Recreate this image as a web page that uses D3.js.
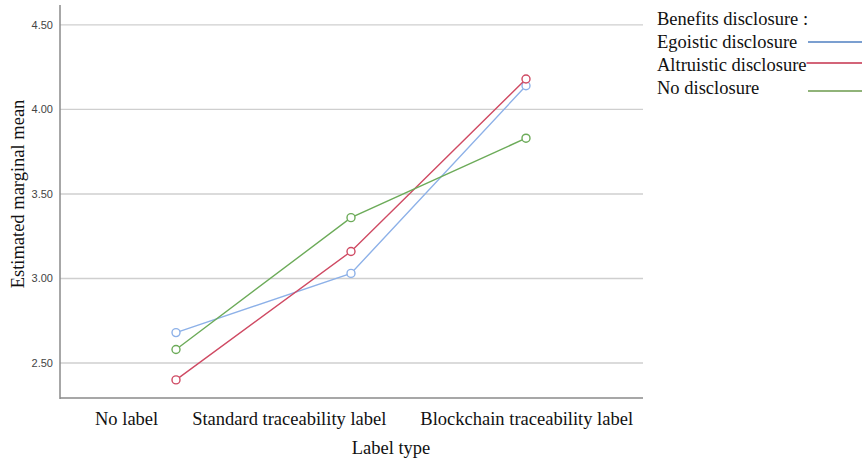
<!DOCTYPE html>
<html><head><meta charset="utf-8">
<script src="https://cdn.jsdelivr.net/npm/d3@7"></script>
<style>body{margin:0;background:#fff}svg{display:block}</style>
</head><body>
<svg id="chart" width="862" height="461"></svg>
<script>
const categories = ["No label", "Standard traceability label", "Blockchain traceability label"];
const seriesNames = ["Egoistic disclosure", "Altruistic disclosure", "No disclosure"];
const egoistic = [2.68, 3.03, 4.14];
const altruistic = [2.40, 3.16, 4.18];
const noDisclosure = [2.58, 3.36, 3.83];
const yTicks = [2.5, 3.0, 3.5, 4.0, 4.5];
const lineColors = ["#8db1e8", "#cf4a63", "#6cab59"];
const legendColors = ["#4f7fc0", "#c4304b", "#6b9a4c"];
const seriesValues = [egoistic, altruistic, noDisclosure];

(function () {
const svg = d3.select("#chart");
const pLeft = 60, pRight = 643, pTop = 5, pBottom = 398;
const serif = "Liberation Serif, Times New Roman, serif";
const fs = 18.5;
const y = d3.scaleLinear().domain([2.293, 4.618]).range([pBottom, pTop]);
const x = d3.scalePoint().domain(categories).range([176, 526]);

// gridlines
svg.append("g").selectAll("line").data(yTicks).join("line")
  .attr("x1", pLeft).attr("x2", pRight)
  .attr("y1", d => y(d)).attr("y2", d => y(d))
  .attr("stroke", "#cfcfcf").attr("stroke-width", 1.3);

// axes lines
svg.append("line").attr("x1", pLeft).attr("x2", pLeft).attr("y1", pTop).attr("y2", pBottom + 1)
  .attr("stroke", "#8a8a8a").attr("stroke-width", 1.5);
svg.append("line").attr("x1", pLeft).attr("x2", pRight).attr("y1", pBottom).attr("y2", pBottom)
  .attr("stroke", "#8a8a8a").attr("stroke-width", 1.5);

// y tick labels
svg.append("g").selectAll("text").data(yTicks).join("text")
  .attr("x", pLeft - 7).attr("y", d => y(d)).attr("dy", "0.35em")
  .attr("text-anchor", "end")
  .attr("font-family", "Liberation Sans, Arial, sans-serif").attr("font-size", 11)
  .attr("fill", "#444")
  .text(d => d3.format(".2f")(d));

// x labels laid out sequentially
const xl = svg.append("g");
let cursor = 95;
categories.forEach(c => {
  const t = xl.append("text").attr("x", cursor).attr("y", 425)
    .attr("font-family", serif).attr("font-size", fs)
    .attr("fill", "#111").text(c);
  cursor += t.node().getComputedTextLength() + 34;
});

// axis titles
svg.append("text").attr("x", 391).attr("y", 454).attr("text-anchor", "middle")
  .attr("font-family", serif).attr("font-size", fs)
  .attr("fill", "#111").text("Label type");
svg.append("text").attr("transform", "translate(24,194) rotate(-90)").attr("text-anchor", "middle")
  .attr("font-family", serif).attr("font-size", fs)
  .attr("fill", "#111").text("Estimated marginal mean");

// series
const line = d3.line().x((d, i) => x(categories[i])).y(d => y(d));
seriesValues.forEach((vals, s) => {
  const g = svg.append("g");
  g.append("path").attr("d", line(vals)).attr("fill", "none")
    .attr("stroke", lineColors[s]).attr("stroke-width", 1.4);
  g.selectAll("circle").data(vals).join("circle")
    .attr("cx", (d, i) => x(categories[i])).attr("cy", d => y(d)).attr("r", 4)
    .attr("fill", "#fff").attr("stroke", lineColors[s]).attr("stroke-width", 1.4);
});

// legend
const lg = svg.append("g").attr("font-family", serif)
  .attr("font-size", fs).attr("fill", "#111");
lg.append("text").attr("x", 657).attr("y", 25).text("Benefits disclosure :");
const legY = [48, 71, 94];
const lineY = [42, 63, 91];
seriesNames.forEach((n, i) => {
  const t = lg.append("text").attr("x", 657).attr("y", legY[i]).text(n);
  const w = t.node().getComputedTextLength();
  lg.append("line").attr("x1", i === 1 ? 657 + w : 808).attr("x2", 862)
    .attr("y1", lineY[i]).attr("y2", lineY[i])
    .attr("stroke", legendColors[i]).attr("stroke-width", 1.5);
});
})();
</script>
</body></html>
